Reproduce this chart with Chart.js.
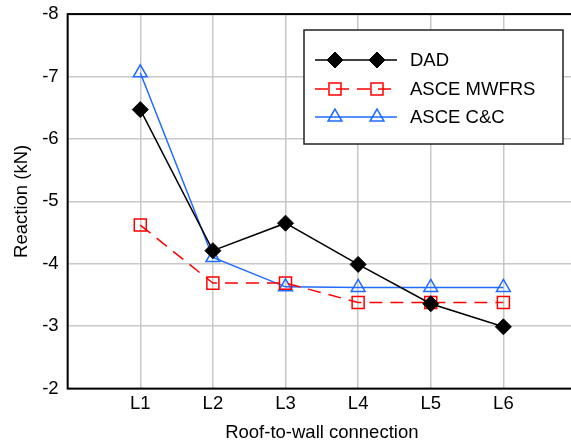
<!DOCTYPE html>
<html>
<head>
<meta charset="utf-8">
<script src="https://cdn.jsdelivr.net/npm/chart.js@4"></script>
<style>
  html, body { margin: 0; padding: 0; background: #fff; overflow: hidden; }
  #wrap { position: absolute; left: 0; top: -6px; width: 586px; height: 450px; }
</style>
</head>
<body>
<div id="wrap"><canvas id="reactionChart"></canvas></div>
<script>
// connections, padded with empty slots at both ends like the original plot
const connections = ['', 'L1', 'L2', 'L3', 'L4', 'L5', 'L6', ''];
const dad = [null, -6.47, -4.21, -4.65, -3.99, -3.36, -2.99, null];
const asceMwfrs = [null, -4.62, -3.69, -3.69, -3.38, -3.38, -3.38, null];
const asceCC = [null, -7.06, -4.10, -3.63, -3.62, -3.62, -3.62, null];
const yTicks = [-8, -7, -6, -5, -4, -3, -2];

const FONT = 'Liberation Sans, Arial, Helvetica, sans-serif';
const FSIZE = 18.5;

// black frame around the plot and the boxed legend in its upper right
const framePlugin = {
  id: 'frame',
  afterDraw(chart) {
    const ctx = chart.ctx;
    const a = chart.chartArea;
    ctx.save();
    ctx.strokeStyle = '#000';
    ctx.lineWidth = 2;
    ctx.strokeRect(a.left, a.top, a.right - a.left, a.bottom - a.top);

    // legend coords are page coords; canvas is shifted up 6px
    const off = 6;
    const bx = 304, by = 30 + off, bw = 259, bh = 114;
    ctx.fillStyle = '#fff';
    ctx.fillRect(bx, by, bw, bh);
    ctx.lineWidth = 1.5;
    ctx.strokeStyle = '#222';
    ctx.strokeRect(bx, by, bw, bh);

    const rows = [60, 89, 117];
    chart.data.datasets.forEach((ds, i) => {
      const y = rows[i] + off;
      ctx.save();
      ctx.strokeStyle = ds.borderColor;
      ctx.lineWidth = ds.borderWidth;
      ctx.setLineDash(ds.borderDash || []);
      ctx.beginPath();
      ctx.moveTo(315, y);
      ctx.lineTo(397, y);
      ctx.stroke();
      ctx.restore();
      [335, 377].forEach(x => {
        ctx.save();
        ctx.fillStyle = ds.pointBackgroundColor;
        ctx.strokeStyle = ds.pointBorderColor;
        ctx.lineWidth = ds.pointBorderWidth;
        Chart.helpers.drawPoint(ctx, {
          pointStyle: ds.pointStyle,
          radius: ds.pointRadius,
          borderWidth: ds.pointBorderWidth,
          rotation: 0
        }, x, y);
        ctx.restore();
      });
      ctx.fillStyle = '#000';
      ctx.font = FSIZE + 'px ' + FONT;
      ctx.textBaseline = 'middle';
      ctx.fillText(ds.label, 410, y + 1);
    });
    ctx.restore();
  }
};

const datasets = [
  {
    label: 'DAD',
    data: dad,
    borderColor: '#000',
    borderWidth: 1.5,
    pointStyle: 'rectRot',
    pointRadius: 8,
    pointBorderWidth: 1,
    pointBackgroundColor: '#000',
    pointBorderColor: '#000'
  },
  {
    label: 'ASCE MWFRS',
    data: asceMwfrs,
    borderColor: '#ff0000',
    borderWidth: 1.5,
    borderDash: [13, 8],
    pointStyle: 'rect',
    pointRadius: 8.5,
    pointBorderWidth: 1.5,
    pointBackgroundColor: 'rgba(255,255,255,0)',
    pointBorderColor: '#ff0000'
  },
  {
    label: 'ASCE C&C',
    data: asceCC,
    borderColor: '#1f6bff',
    borderWidth: 1.5,
    pointStyle: 'triangle',
    pointRadius: 8,
    pointBorderWidth: 1.5,
    pointBackgroundColor: 'rgba(255,255,255,0)',
    pointBorderColor: '#1f6bff'
  }
];

new Chart(document.getElementById('reactionChart'), {
  type: 'line',
  data: { labels: connections, datasets: datasets },
  options: {
    responsive: true,
    maintainAspectRatio: false,
    animation: false,
    layout: { padding: { left: 11, right: 5, top: 4, bottom: 0 } },
    plugins: { legend: { display: false }, tooltip: { enabled: false } },
    scales: {
      x: {
        offset: false,
        grid: { color: '#c8c8c8', lineWidth: 1.5, drawTicks: false },
        border: { display: false },
        ticks: { color: '#000', font: { family: FONT, size: FSIZE }, padding: 4, maxRotation: 0, autoSkip: false },
        title: { display: true, text: 'Roof-to-wall connection', color: '#000', font: { family: FONT, size: FSIZE }, padding: { top: 3, bottom: 0 } }
      },
      y: {
        reverse: true,
        min: -8,
        max: -2,
        afterBuildTicks: axis => { axis.ticks = yTicks.map(v => ({ value: v })); },
        grid: { color: '#c8c8c8', lineWidth: 1.5, drawTicks: false },
        border: { display: false },
        ticks: { color: '#000', font: { family: FONT, size: FSIZE }, padding: 9 },
        title: { display: true, text: 'Reaction (kN)', color: '#000', font: { family: FONT, size: FSIZE }, padding: { top: 0, bottom: 0 } }
      }
    }
  },
  plugins: [framePlugin]
});
</script>
</body>
</html>
